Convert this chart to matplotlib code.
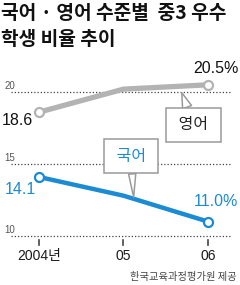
import matplotlib.pyplot as plt

plt.rcParams['font.family'] = ['Noto Sans CJK KR', 'DejaVu Sans']

# data
years = ['2004년', '05', '06']
english = [18.6, 20.2, 20.5]
korean = [14.1, 12.8, 11.0]
yticks = [10, 15, 20]

gray = '#b3b3b3'
blue = '#1b8bd3'
narrow = ['Liberation Sans', 'Noto Sans CJK KR']

fig = plt.figure(figsize=(2.4, 2.85), dpi=100)
ax = fig.add_axes([0, 0, 1, 1])
ax.set_xlim(-0.4615, 2.379)
ax.set_ylim(6.597, 26.39)
ax.axis('off')

x = range(len(years))

# dotted grid with small labels
for t in yticks:
    ax.plot([-0.33, 2.28], [t, t], color='#444444', lw=0.9,
            linestyle=(0, (1, 1.6)), zorder=1)
    ax.text(-0.405, t + 0.05, str(t), fontsize=7, family=narrow,
            color='#555555', ha='left', va='bottom')

# bottom tick marks and labels
for i, lab in enumerate(years):
    ax.plot([i, i], [9.7, 9.35], color='#444444', lw=1.2)
    ax.text(i, 8.6, lab, fontsize=10, family=narrow,
            ha='center', va='center', color='#1a1a1a')

ax.plot(x, english, color=gray, lw=3.8, zorder=3, solid_capstyle='butt')
ax.plot([x[0], x[-1]], [english[0], english[-1]], ls='none', marker='o',
        ms=6.5, mfc='white', mec=gray, mew=1.6, zorder=4)
ax.plot(x, korean, color=blue, lw=3.2, zorder=3, solid_capstyle='butt')
ax.plot([x[0], x[-1]], [korean[0], korean[-1]], ls='none', marker='o',
        ms=6.5, mfc='white', mec=blue, mew=1.6, zorder=4)

# value labels
ax.text(-0.44, english[0] - 0.6, '%.1f' % english[0], fontsize=11.5,
        family=narrow, ha='left', va='center', color='#111111')
ax.text(2.36, english[-1] + 1.1, '%.1f%%' % english[-1], fontsize=11.5,
        family=narrow, ha='right', va='center', color='#111111')
ax.text(-0.4, korean[0] - 0.9, '%.1f' % korean[0], fontsize=11.5,
        family=narrow, ha='left', va='center', color=blue)
ax.text(2.36, korean[-1] + 1.4, '%.1f%%' % korean[-1], fontsize=11.5,
        family=narrow, ha='right', va='center', color=blue)

# callouts
box = dict(boxstyle='square,pad=0.55', fc='white', ec='#9a9a9a', lw=1.1)
ax.annotate(' 영어 ', xy=(1.69, 19.95), xytext=(1.83, 17.71), fontsize=11.5,
            ha='center', va='center', color='#222222', zorder=6, bbox=box,
            arrowprops=dict(arrowstyle='wedge,tail_width=0.6', fc='white',
                            ec='#9a9a9a', lw=1.1, shrinkA=0, shrinkB=0))
ax.annotate(' 국어 ', xy=(1.12, 12.7), xytext=(1.09, 15.55), fontsize=11.5,
            ha='center', va='center', color=blue, zorder=6, bbox=box,
            arrowprops=dict(arrowstyle='wedge,tail_width=0.45', fc='white',
                            ec='#9a9a9a', lw=1.1, shrinkA=0, shrinkB=0))

# title and source
fig.text(0.005, 0.952, '국어 · 영어 수준별  중3 우수', fontsize=13.8, fontweight='bold',
         ha='left', va='center', color='#111111')
fig.text(0.005, 0.862, '학생 비율 추이', fontsize=13.8, fontweight='bold',
         ha='left', va='center', color='#111111')
fig.text(0.985, 0.028, '한국교육과정평가원 제공', fontsize=7.4, ha='right',
         va='center', color='#444444')

fig.savefig('out.png', dpi=100)
